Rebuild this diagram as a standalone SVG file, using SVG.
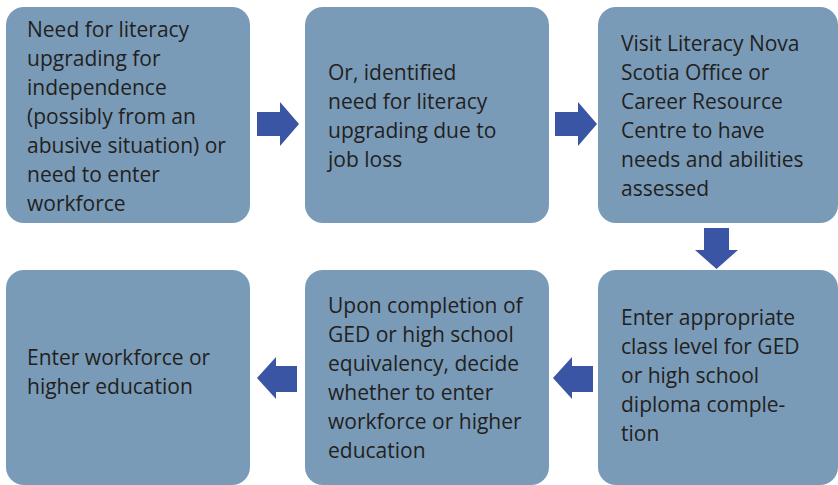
<svg xmlns="http://www.w3.org/2000/svg" width="838" height="485" viewBox="0 0 838 485">
<style>
.box{fill:#799bb8}
.t{font-family:"Open Sans","Noto Sans",sans-serif;font-size:21px;fill:#231f20}
.arr{fill:#3b55a5}
</style>
<rect width="838" height="485" fill="#ffffff"/>
<g id="n1"><rect class="box" x="6" y="7" width="244" height="216" rx="18"/>
<text class="t"><tspan x="27" y="37">Need for literacy</tspan><tspan x="27" y="66">upgrading for</tspan><tspan x="27" y="95">independence</tspan><tspan x="27" y="124">(possibly from an</tspan><tspan x="27" y="153">abusive situation) or</tspan><tspan x="27" y="182">need to enter</tspan><tspan x="27" y="211">workforce</tspan></text></g>
<g id="n2"><rect class="box" x="305" y="7" width="244" height="216" rx="18"/>
<text class="t"><tspan x="328" y="80">Or, identified</tspan><tspan x="328" y="109">need for literacy</tspan><tspan x="328" y="138">upgrading due to</tspan><tspan x="328" y="167">job loss</tspan></text></g>
<g id="n3"><rect class="box" x="598" y="7" width="240" height="216" rx="18"/>
<text class="t"><tspan x="621" y="51">Visit Literacy Nova</tspan><tspan x="621" y="80">Scotia Office or</tspan><tspan x="621" y="109">Career Resource</tspan><tspan x="621" y="138">Centre to have</tspan><tspan x="621" y="167">needs and abilities</tspan><tspan x="621" y="196">assessed</tspan></text></g>
<g id="n4"><rect class="box" x="598" y="270" width="240" height="215" rx="18"/>
<text class="t"><tspan x="621" y="325">Enter appropriate</tspan><tspan x="621" y="354">class level for GED</tspan><tspan x="621" y="383">or high school</tspan><tspan x="621" y="412">diploma comple-</tspan><tspan x="621" y="441">tion</tspan></text></g>
<g id="n5"><rect class="box" x="305" y="270" width="244" height="215" rx="18"/>
<text class="t"><tspan x="328" y="313">Upon completion of</tspan><tspan x="328" y="342">GED or high school</tspan><tspan x="328" y="371">equivalency, decide</tspan><tspan x="328" y="400">whether to enter</tspan><tspan x="328" y="429">workforce or higher</tspan><tspan x="328" y="458">education</tspan></text></g>
<g id="n6"><rect class="box" x="6" y="270" width="244" height="215" rx="18"/>
<text class="t"><tspan x="27" y="365">Enter workforce or</tspan><tspan x="27" y="394">higher education</tspan></text></g>
<g id="connectors">
<polygon class="arr" points="257,112 280,112 280,102 299,124 280,146 280,136 257,136"/>
<polygon class="arr" points="555,112 578,112 578,102 597,124 578,146 578,136 555,136"/>
<polygon class="arr" points="704,228 729,228 729,250 738,250 716.5,269 695,250 704,250"/>
<polygon class="arr" points="593,366 572,366 572,357 553,378 572,399 572,392 593,392"/>
<polygon class="arr" points="297,366 276,366 276,357 257,378 276,399 276,392 297,392"/>
</g>
</svg>
